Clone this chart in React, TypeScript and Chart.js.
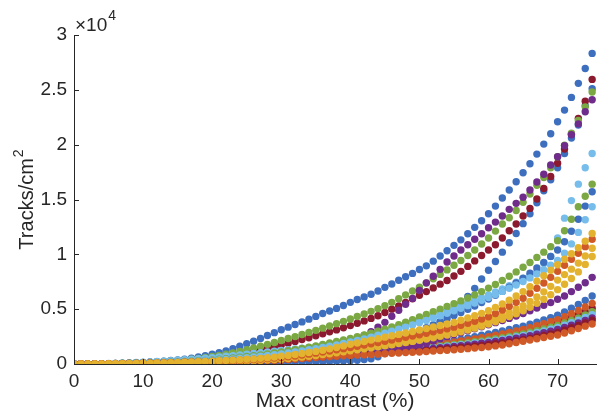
import { useEffect, useRef } from 'react';
import { Chart, registerables } from 'chart.js';
Chart.register(...registerables);

const contrast = [
  0, 1, 2, 3, 4, 5, 6, 7, 8, 9, 10, 11, 12, 13, 14, 15, 16, 17, 18, 19,
  20, 21, 22, 23, 24, 25, 26, 27, 28, 29, 30, 31, 32, 33, 34, 35, 36, 37, 38, 39,
  40, 41, 42, 43, 44, 45, 46, 47, 48, 49, 50, 51, 52, 53, 54, 55, 56, 57, 58, 59,
  60, 61, 62, 63, 64, 65, 66, 67, 68, 69, 70, 71, 72, 73, 74, 75,
];

const xTickValues = [0, 10, 20, 30, 40, 50, 60, 70];

const blueTop = [0, 5, 10, 15, 25, 35, 50, 70, 90, 115,
  145, 180, 220, 265, 315, 370, 440, 530, 640, 760,
  900, 1040, 1200, 1400, 1620, 1840, 2070, 2330, 2600, 2860,
  3120, 3360, 3600, 3840, 4090, 4340, 4600, 4830, 5070, 5330,
  5620, 5880, 6120, 6360, 6650, 6990, 7300, 7630, 7950, 8260,
  8620, 8950, 9380, 9850, 10320, 10820, 11320, 11880, 12460, 13060,
  13700, 14400, 15130, 15860, 16620, 17440, 18260, 19140, 20050, 21000,
  22090, 23150, 24310, 25590, 26950, 28320];

const redHigh = [0, 5, 10, 15, 20, 30, 40, 55, 70, 90,
  110, 130, 155, 185, 215, 250, 290, 335, 385, 440,
  500, 570, 650, 740, 840, 950, 1100, 1260, 1420, 1580,
  1740, 1900, 2060, 2230, 2400, 2570, 2750, 2930, 3110, 3300,
  3500, 3710, 3930, 4160, 4400, 4700, 5000, 5300, 5620, 5940,
  6270, 6600, 6940, 7280, 7620, 8020, 8450, 8900, 9400, 9900,
  10400, 10880, 11490, 12150, 12760, 13490, 14190, 15040, 16000, 17100,
  18300, 19600, 20950, 22400, 23970, 25950];

const blueLate = [0, 0, 0, 0, 0, 5, 5, 10, 10, 15,
  15, 20, 20, 25, 30, 35, 40, 45, 50, 55,
  60, 70, 80, 90, 100, 110, 120, 130, 140, 150,
  160, 170, 180, 190, 200, 210, 220, 240, 260, 280,
  300, 340, 400, 480, 650, 950, 1270, 1620, 1900, 2200,
  2550, 2950, 3400, 3850, 4350, 4900, 5500, 6150, 6900, 7750,
  8550, 9350, 10200, 11060, 11900, 12800, 13700, 14700, 15800, 16800,
  17900, 19200, 20600, 21800, 23550, 25100];

const greenHigh = [0, 5, 10, 15, 25, 35, 50, 70, 90, 115,
  140, 170, 200, 240, 280, 330, 380, 440, 510, 590,
  680, 780, 890, 1010, 1140, 1300, 1460, 1620, 1790, 1960,
  2140, 2320, 2500, 2690, 2880, 3070, 3270, 3470, 3680, 3890,
  4110, 4330, 4560, 4800, 5050, 5320, 5620, 5950, 6300, 6650,
  7000, 7380, 7770, 8170, 8580, 9000, 9440, 9900, 10400, 10940,
  11490, 12120, 12760, 13340, 14000, 14740, 15500, 16300, 17000, 17900,
  18900, 19950, 21050, 22200, 23450, 24800];

const purpleHigh = [0, 3, 6, 10, 15, 20, 28, 36, 45, 55,
  65, 78, 92, 108, 125, 145, 168, 193, 220, 250,
  280, 315, 355, 400, 450, 500, 560, 620, 690, 760,
  840, 920, 1010, 1100, 1200, 1310, 1430, 1560, 1700, 1860,
  2040, 2300, 2600, 2950, 3350, 3800, 4350, 4900, 5450, 5980,
  6700, 7400, 8000, 8630, 9300, 9850, 10400, 10880, 11370, 11880,
  12430, 12940, 13500, 14100, 14650, 15200, 15860, 16600, 17300, 18140,
  18900, 19900, 20900, 21900, 23000, 24100];

const lightBlueHigh = [0, 5, 10, 20, 30, 45, 60, 80, 105, 130,
  160, 190, 225, 260, 300, 340, 385, 430, 480, 530,
  585, 640, 700, 760, 825, 890, 960, 1030, 1100, 1170,
  1240, 1310, 1380, 1450, 1520, 1600, 1690, 1790, 1900, 2020,
  2150, 2290, 2440, 2600, 2770, 2950, 3130, 3320, 3510, 3700,
  3900, 4110, 4330, 4560, 4800, 5050, 5300, 5550, 5800, 6050,
  6300, 6570, 6850, 7150, 7470, 7800, 8100, 8480, 9170, 9800,
  11500, 13300, 14900, 16400, 17900, 19200];

const greenMid = [0, 3, 6, 10, 15, 22, 30, 40, 52, 65,
  80, 97, 117, 140, 165, 193, 224, 258, 295, 335,
  380, 430, 485, 545, 610, 680, 755, 835, 920, 1010,
  1105, 1205, 1310, 1420, 1535, 1655, 1780, 1910, 2045, 2185,
  2330, 2480, 2640, 2810, 2990, 3180, 3380, 3590, 3810, 4040,
  4280, 4520, 4760, 5000, 5250, 5500, 5750, 6020, 6300, 6600,
  6920, 7260, 7620, 8000, 8400, 8820, 9260, 9720, 10200, 10700,
  11250, 12150, 13200, 14340, 15300, 16400];

const blueMid = [0, 0, 0, 5, 5, 10, 10, 15, 20, 25,
  30, 35, 40, 45, 55, 65, 75, 85, 95, 110,
  120, 135, 150, 165, 180, 200, 220, 240, 260, 280,
  300, 320, 345, 370, 395, 420, 450, 480, 520, 560,
  610, 720, 880, 1080, 1300, 1550, 1820, 2100, 2400, 2700,
  3000, 3300, 3580, 3860, 4140, 4420, 4700, 4990, 5290, 5600,
  5920, 6260, 6620, 7000, 7400, 7830, 8280, 8760, 9270, 9810,
  10400, 11150, 12100, 13200, 14400, 15700];

const lightBlueMid = [0, 3, 6, 10, 15, 20, 28, 37, 48, 60,
  75, 90, 108, 128, 150, 175, 200, 230, 262, 298,
  335, 375, 420, 468, 520, 575, 635, 700, 770, 845,
  925, 1010, 1100, 1195, 1295, 1400, 1510, 1625, 1745, 1870,
  2000, 2140, 2290, 2450, 2620, 2800, 2980, 3170, 3360, 3560,
  3760, 3970, 4180, 4400, 4620, 4850, 5080, 5320, 5560, 5810,
  6070, 6340, 6620, 6910, 7210, 7520, 7850, 8200, 8580, 9000,
  9450, 10100, 10950, 12000, 13150, 14340];

const yellowA = [0, 2, 5, 9, 14, 20, 27, 35, 44, 54,
  65, 77, 90, 105, 122, 140, 160, 182, 206, 232,
  260, 290, 322, 356, 392, 430, 470, 515, 565, 630,
  700, 780, 865, 955, 1050, 1150, 1260, 1380, 1510, 1650,
  1800, 1920, 2050, 2180, 2310, 2450, 2570, 2700, 2830, 2960,
  3100, 3230, 3370, 3510, 3650, 3800, 3990, 4190, 4400, 4620,
  4850, 5160, 5480, 5820, 6200, 6600, 7050, 7550, 8050, 8550,
  9050, 9550, 10050, 10600, 11200, 11900];

const orangeMid = [0, 2, 4, 8, 12, 17, 23, 30, 38, 47,
  57, 68, 80, 94, 109, 125, 143, 162, 183, 206,
  230, 256, 284, 314, 346, 380, 416, 455, 497, 542,
  590, 660, 735, 815, 900, 990, 1085, 1185, 1290, 1400,
  1510, 1620, 1730, 1840, 1950, 2070, 2190, 2310, 2430, 2550,
  2670, 2800, 2930, 3070, 3210, 3360, 3530, 3710, 3900, 4100,
  4310, 4600, 4920, 5260, 5620, 6000, 6450, 6900, 7380, 7900,
  8450, 9000, 9550, 10100, 10700, 11370];

const yellowB = [0, 2, 4, 7, 10, 14, 19, 25, 32, 40,
  49, 59, 70, 82, 95, 109, 124, 140, 157, 175,
  195, 217, 241, 267, 295, 325, 357, 391, 427, 465,
  505, 565, 630, 700, 775, 855, 940, 1030, 1125, 1225,
  1330, 1430, 1530, 1630, 1730, 1840, 1950, 2060, 2170, 2280,
  2400, 2520, 2650, 2780, 2920, 3070, 3230, 3400, 3580, 3770,
  3970, 4200, 4450, 4720, 5010, 5320, 5700, 6120, 6580, 7080,
  7650, 8150, 8650, 9200, 9850, 10550];

const yellowC = [0, 1, 3, 5, 8, 11, 15, 20, 26, 33,
  41, 50, 60, 71, 83, 96, 110, 125, 141, 158,
  176, 196, 217, 240, 264, 290, 318, 348, 380, 414,
  450, 505, 565, 630, 700, 775, 855, 940, 1030, 1120,
  1210, 1300, 1390, 1480, 1570, 1665, 1760, 1860, 1960, 2060,
  2170, 2280, 2400, 2520, 2650, 2790, 2940, 3100, 3270, 3450,
  3640, 3850, 4080, 4320, 4580, 4860, 5180, 5530, 5910, 6320,
  6780, 7270, 7800, 8400, 9080, 9800];

const purpleMid = [0, 2, 4, 6, 9, 12, 16, 21, 27, 34,
  42, 50, 58, 66, 75, 85, 96, 108, 121, 135,
  150, 170, 190, 212, 235, 260, 290, 320, 352, 386,
  420, 455, 490, 530, 570, 610, 655, 700, 750, 800,
  850, 905, 960, 1020, 1085, 1150, 1240, 1340, 1450, 1570,
  1700, 1900, 2100, 2300, 2500, 2680, 2860, 3040, 3220, 3400,
  3580, 3770, 3960, 4160, 4370, 4600, 4850, 5100, 5350, 5600,
  5900, 6200, 6600, 7000, 7410, 7900];

const blueLow = [0, 3, 7, 12, 18, 25, 33, 42, 52, 63,
  75, 88, 102, 117, 133, 150, 168, 187, 207, 228,
  260, 285, 312, 340, 370, 402, 436, 472, 510, 550,
  600, 650, 702, 756, 812, 870, 930, 990, 1050, 1100,
  1150, 1205, 1260, 1315, 1370, 1430, 1490, 1550, 1615, 1680,
  1750, 1825, 1900, 1980, 2065, 2150, 2260, 2370, 2490, 2620,
  2750, 2880, 3010, 3150, 3300, 3450, 3630, 3820, 4020, 4230,
  4450, 4750, 5080, 5430, 5800, 6200];

const orangeLow = [0, 3, 6, 10, 15, 21, 28, 36, 45, 55,
  66, 78, 91, 105, 120, 136, 153, 171, 190, 210,
  231, 253, 276, 300, 325, 351, 378, 406, 435, 465,
  500, 550, 600, 650, 700, 755, 810, 865, 920, 995,
  1070, 1120, 1170, 1220, 1275, 1330, 1385, 1440, 1500, 1560,
  1620, 1690, 1760, 1840, 1920, 2000, 2095, 2190, 2290, 2395,
  2500, 2620, 2740, 2870, 3010, 3150, 3320, 3490, 3670, 3860,
  4050, 4310, 4590, 4890, 5200, 5530];

const redLow = [0, 2, 5, 9, 13, 18, 24, 31, 39, 48,
  58, 69, 81, 94, 108, 123, 139, 156, 174, 193,
  213, 234, 256, 279, 303, 328, 354, 381, 409, 438,
  470, 520, 570, 620, 670, 720, 775, 830, 890, 950,
  1010, 1060, 1110, 1160, 1210, 1265, 1320, 1375, 1430, 1480,
  1530, 1595, 1660, 1730, 1805, 1880, 1965, 2050, 2140, 2235,
  2330, 2440, 2550, 2670, 2790, 2920, 3070, 3230, 3400, 3570,
  3750, 3990, 4240, 4500, 4780, 5080];

const greenLow = [0, 2, 4, 7, 11, 16, 21, 27, 34, 42,
  51, 61, 72, 84, 97, 111, 126, 142, 159, 177,
  196, 216, 237, 259, 282, 306, 331, 357, 384, 412,
  440, 490, 540, 590, 640, 690, 740, 795, 850, 905,
  960, 1005, 1050, 1095, 1140, 1190, 1240, 1290, 1340, 1395,
  1450, 1510, 1575, 1640, 1710, 1780, 1860, 1940, 2025, 2110,
  2200, 2300, 2400, 2510, 2625, 2750, 2890, 3040, 3190, 3350,
  3520, 3740, 3970, 4210, 4480, 4770];

const lightBlueLow = [0, 2, 4, 7, 10, 14, 19, 25, 32, 40,
  48, 57, 67, 78, 90, 103, 117, 132, 148, 165,
  183, 202, 222, 243, 265, 288, 312, 337, 363, 390,
  420, 470, 520, 570, 620, 670, 720, 770, 820, 870,
  920, 965, 1010, 1055, 1100, 1150, 1195, 1240, 1285, 1330,
  1380, 1440, 1500, 1560, 1625, 1690, 1760, 1835, 1915, 1995,
  2080, 2170, 2270, 2370, 2480, 2600, 2730, 2870, 3020, 3170,
  3330, 3540, 3760, 3990, 4240, 4500];

const purpleLow = [0, 2, 4, 6, 9, 13, 17, 22, 28, 35,
  43, 52, 61, 71, 82, 94, 107, 121, 136, 152,
  169, 187, 206, 226, 247, 269, 292, 316, 341, 367,
  395, 445, 495, 545, 595, 645, 690, 740, 785, 835,
  880, 920, 960, 1000, 1045, 1090, 1135, 1180, 1220, 1265,
  1310, 1365, 1420, 1480, 1540, 1600, 1670, 1740, 1815, 1890,
  1970, 2060, 2150, 2250, 2350, 2460, 2580, 2710, 2850, 3000,
  3150, 3340, 3540, 3750, 3970, 4200];

const redFloor = [0, 1, 3, 5, 8, 11, 15, 19, 24, 30,
  37, 45, 54, 64, 75, 87, 100, 114, 129, 145,
  162, 180, 199, 219, 240, 262, 285, 309, 334, 360,
  385, 430, 475, 520, 565, 610, 655, 700, 745, 790,
  830, 865, 900, 940, 980, 1020, 1060, 1100, 1140, 1170,
  1200, 1245, 1290, 1340, 1390, 1440, 1500, 1565, 1630, 1695,
  1760, 1840, 1925, 2015, 2115, 2220, 2340, 2470, 2600, 2740,
  2880, 3080, 3300, 3520, 3750, 4000];

const orangeFloor = [0, 1, 2, 4, 6, 9, 12, 16, 21, 27,
  33, 40, 48, 57, 67, 78, 90, 103, 117, 132,
  148, 165, 183, 202, 222, 243, 265, 288, 312, 337,
  363, 405, 450, 495, 540, 585, 630, 670, 710, 745,
  780, 810, 840, 870, 900, 935, 970, 1005, 1040, 1070,
  1100, 1140, 1180, 1220, 1260, 1300, 1350, 1400, 1455, 1510,
  1570, 1650, 1730, 1840, 1960, 2080, 2190, 2300, 2420, 2530,
  2640, 2830, 3030, 3240, 3450, 3650];

const BLUE = '#3d6fbe';
const ORANGE = '#d05a27';
const YELLOW = '#e3b22f';
const PURPLE = '#6f2c8b';
const GREEN = '#7ba843';
const LIGHTBLUE = '#76bdeb';
const RED = '#8c1a2f';

// listed from top-most drawn to bottom-most drawn
const seriesList: [string, number[], string][] = [
  ['yellowA', yellowA, YELLOW],
  ['orangeMid', orangeMid, ORANGE],
  ['yellowB', yellowB, YELLOW],
  ['yellowC', yellowC, YELLOW],
  ['orangeFloor', orangeFloor, ORANGE],
  ['purpleMid', purpleMid, PURPLE],
  ['redFloor', redFloor, RED],
  ['purpleLow', purpleLow, PURPLE],
  ['lightBlueLow', lightBlueLow, LIGHTBLUE],
  ['greenLow', greenLow, GREEN],
  ['orangeLow', orangeLow, ORANGE],
  ['redLow', redLow, RED],
  ['blueLow', blueLow, BLUE],
  ['lightBlueMid', lightBlueMid, LIGHTBLUE],
  ['blueMid', blueMid, BLUE],
  ['greenMid', greenMid, GREEN],
  ['lightBlueHigh', lightBlueHigh, LIGHTBLUE],
  ['purpleHigh', purpleHigh, PURPLE],
  ['greenHigh', greenHigh, GREEN],
  ['redHigh', redHigh, RED],
  ['blueLate', blueLate, BLUE],
  ['blueTop', blueTop, BLUE],
];

const AXIS = '#262626';
const FONT = "'Liberation Sans', Arial, Helvetica, sans-serif";

const textPlugin = {
  id: 'matlabText',
  afterDraw(chart: any) {
    const ctx = chart.ctx as CanvasRenderingContext2D;
    const xs = chart.scales.x;
    const ys = chart.scales.y;
    const area = chart.chartArea;
    ctx.save();
    ctx.strokeStyle = AXIS;
    ctx.lineWidth = 1;
    // inward tick marks
    for (const v of xTickValues) {
      const px = Math.round(xs.getPixelForValue(v)) + 0.5;
      ctx.beginPath();
      ctx.moveTo(px, area.bottom);
      ctx.lineTo(px, area.bottom - 5);
      ctx.stroke();
    }
    for (const t of ys.ticks) {
      const py = Math.round(ys.getPixelForValue(t.value)) + 0.5;
      ctx.beginPath();
      ctx.moveTo(area.left, py);
      ctx.lineTo(area.left + 5, py);
      ctx.stroke();
    }
    ctx.fillStyle = AXIS;
    // exponent label
    ctx.textBaseline = 'alphabetic';
    ctx.textAlign = 'left';
    ctx.font = `19px ${FONT}`;
    ctx.fillText('\u00d710', area.left + 1, area.top - 4);
    const w10 = ctx.measureText('\u00d710').width;
    ctx.font = `14px ${FONT}`;
    ctx.fillText('4', area.left + 2 + w10, area.top - 15);
    // x title
    ctx.font = `21px ${FONT}`;
    ctx.textAlign = 'center';
    ctx.fillText('Max contrast (%)', (area.left + area.right) / 2, 407);
    // y title
    ctx.save();
    ctx.translate(33, (area.top + area.bottom) / 2);
    ctx.rotate(-Math.PI / 2);
    ctx.textAlign = 'left';
    ctx.font = `20px ${FONT}`;
    const main = 'Tracks/cm';
    const wm = ctx.measureText(main).width;
    ctx.font = `14px ${FONT}`;
    const ws = ctx.measureText('2').width;
    const start = -(wm + ws + 1) / 2;
    ctx.font = `20px ${FONT}`;
    ctx.fillText(main, start, 0);
    ctx.font = `14px ${FONT}`;
    ctx.fillText('2', start + wm + 1, -10);
    ctx.restore();
    ctx.restore();
  },
};

export default function App() {
  const ref = useRef<HTMLCanvasElement>(null);
  useEffect(() => {
    if (!ref.current) return;
    const chart = new Chart(ref.current, {
      type: 'scatter',
      data: {
        datasets: seriesList.map(([name, values, color]) => ({
          label: name,
          data: contrast.map((x, i) => ({ x, y: values[i] })),
          backgroundColor: color,
          borderColor: color,
          borderWidth: 0,
          pointRadius: 3.7,
          pointHoverRadius: 3.7,
          showLine: false,
        })),
      },
      options: {
        animation: false,
        responsive: false,
        devicePixelRatio: 1,
        layout: { padding: { top: 35, right: 2, left: 0, bottom: 0 } },
        plugins: { legend: { display: false }, tooltip: { enabled: false } },
        scales: {
          x: {
            type: 'linear',
            min: 0,
            max: 75.6,
            afterFit: (s: any) => { s.height = 50; },
            grid: { display: true, drawOnChartArea: false, drawTicks: false },
            border: { display: true, color: AXIS, width: 1 },
            ticks: {
              includeBounds: false,
              stepSize: 10,
              maxRotation: 0,
              autoSkip: false,
              padding: 6,
              color: AXIS,
              font: { family: FONT, size: 19 },
              callback: (v: any) => (xTickValues.includes(Number(v)) ? String(v) : ''),
            },
          },
          y: {
            type: 'linear',
            min: 0,
            max: 30000,
            afterFit: (s: any) => { s.width = 74; },
            grid: { display: true, drawOnChartArea: false, drawTicks: false },
            border: { display: true, color: AXIS, width: 1 },
            ticks: {
              stepSize: 5000,
              padding: 7,
              color: AXIS,
              font: { family: FONT, size: 19 },
              callback: (v: any) => String(Number(v) / 10000),
            },
          },
        },
      },
      plugins: [textPlugin],
    });
    return () => chart.destroy();
  }, []);
  return (
    <div style={{ position: 'absolute', left: 0, top: 0, width: 600, height: 414, background: '#fff' }}>
      <canvas ref={ref} width={600} height={414} style={{ width: 600, height: 414, display: 'block' }} />
    </div>
  );
}
